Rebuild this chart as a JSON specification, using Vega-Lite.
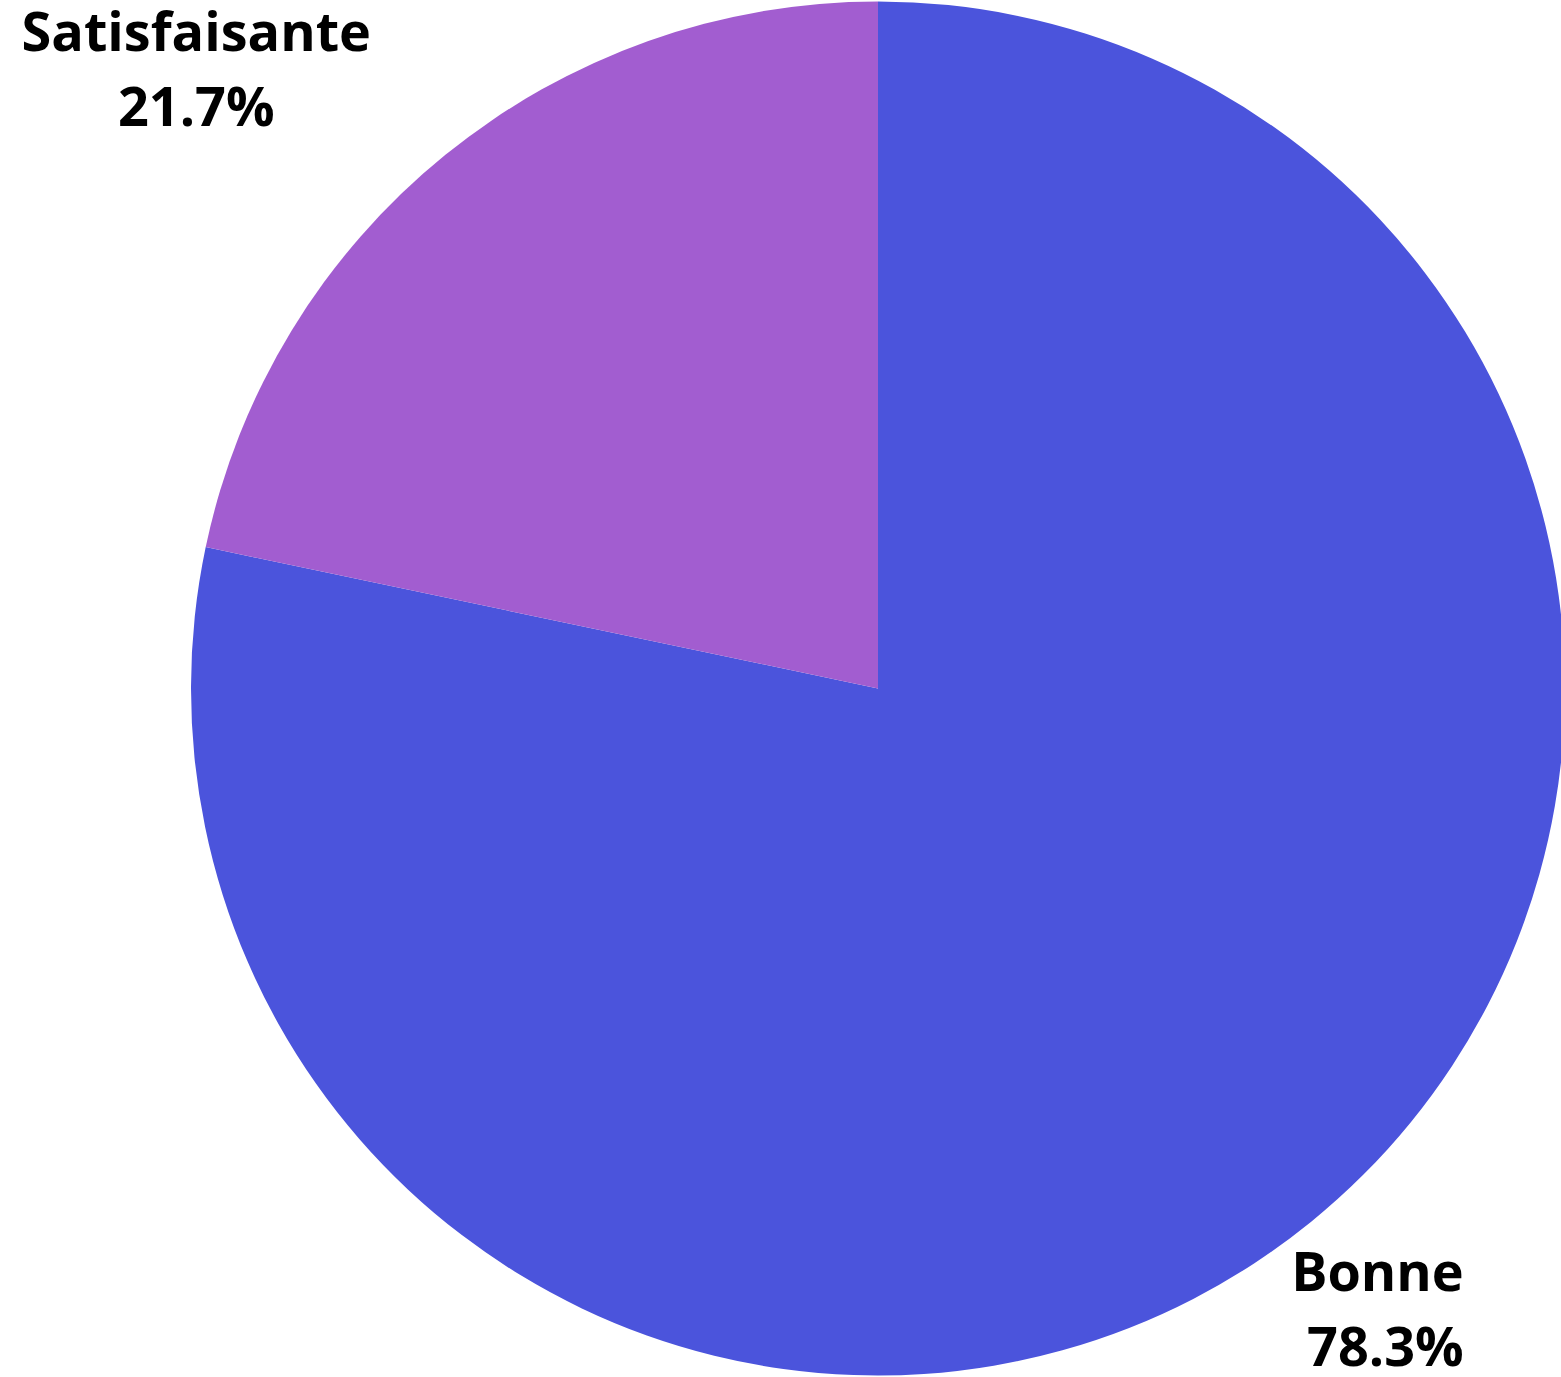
{
  "$schema": "https://vega.github.io/schema/vega-lite/v6.json",
  "autosize": "none",
  "width": 1366,
  "height": 1377,
  "padding": {"left": 195, "right": 0, "top": 0, "bottom": 0},
  "background": "white",
  "data": {"values": [
    {"category": "Bonne", "value": 78.3},
    {"category": "Satisfaisante", "value": 21.7}
  ]},
  "transform": [
    {"calculate": "datum.category + '\\n' + format(datum.value, '.1f') + '%'", "as": "label"},
    {"calculate": "datum.category == 'Bonne' ? datum.label : ''", "as": "labelB"},
    {"calculate": "datum.category == 'Satisfaisante' ? datum.label : ''", "as": "labelS"}
  ],
  "encoding": {
    "theta": {"field": "value", "type": "quantitative", "stack": true},
    "order": {"field": "category", "sort": "ascending"},
    "color": {"field": "category", "type": "nominal", "sort": ["Bonne", "Satisfaisante"],
      "scale": {"domain": ["Bonne", "Satisfaisante"], "range": ["#4b54dc", "#a25dd0"]}, "legend": null}
  },
  "layer": [
    {"mark": {"type": "arc", "outerRadius": 687, "stroke": null}},
    {
      "mark": {"type": "text", "radius": 801, "dx": 81, "dy": -35, "font": "Open Sans", "fontWeight": "bold", "fontSize": 54, "lineHeight": 75, "lineBreak": "\n", "align": "right", "baseline": "middle"},
      "encoding": {"text": {"field": "labelB"}, "color": {"value": "black"}}
    },
    {
      "mark": {"type": "text", "radius": 801, "dx": -177, "dy": -32, "font": "Open Sans", "fontWeight": "bold", "fontSize": 54, "lineHeight": 75, "lineBreak": "\n", "align": "center", "baseline": "middle"},
      "encoding": {"text": {"field": "labelS"}, "color": {"value": "black"}}
    }
  ],
  "config": {"view": {"stroke": null}}
}
